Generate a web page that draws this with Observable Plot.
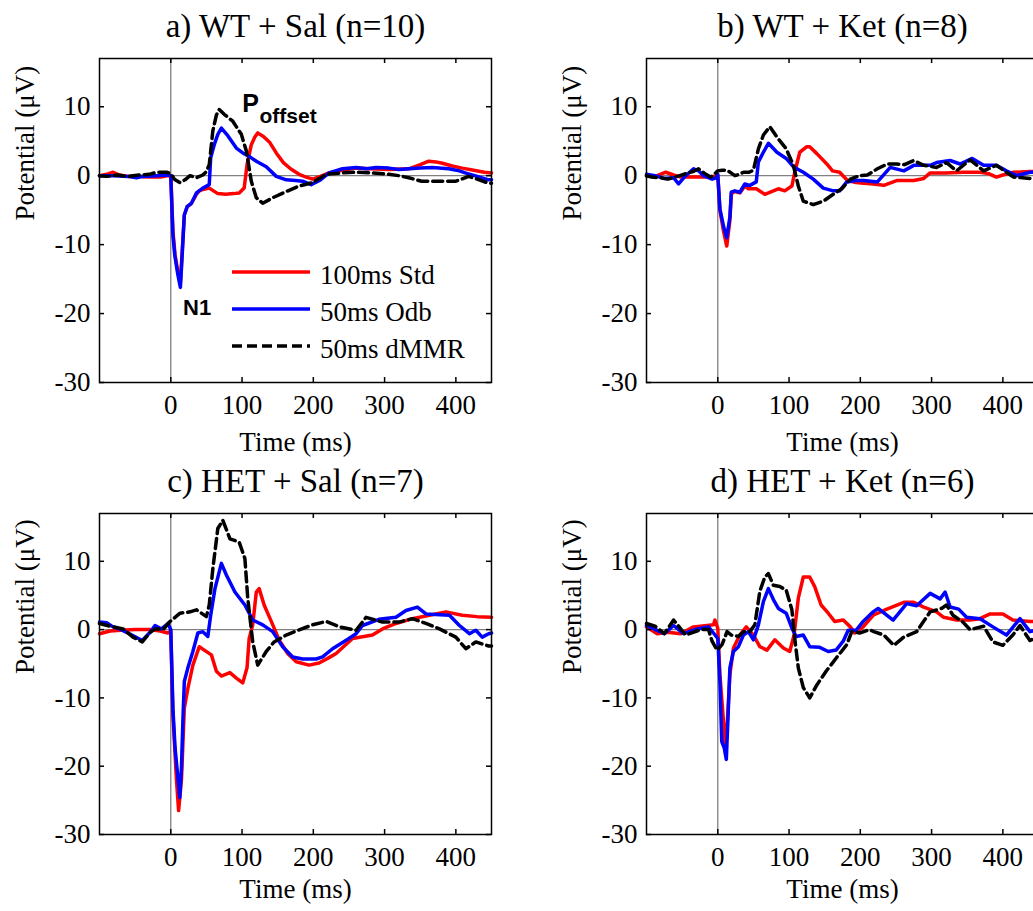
<!DOCTYPE html>
<html><head><meta charset="utf-8">
<script src="https://cdn.jsdelivr.net/npm/d3@7"></script>
<script src="https://cdn.jsdelivr.net/npm/@observablehq/plot@0.6"></script>
<style>
body{margin:0;background:#fff;overflow:hidden;}
#wrap{position:relative;width:1033px;height:911px;overflow:hidden;background:#fff;}
.panel{position:absolute;}
</style></head><body><div id="wrap"></div>
<script>
// ---------- tick labels / categories ----------
const xTicks = [0, 100, 200, 300, 400];
const yTicks = [-30, -20, -10, 0, 10];
const seriesNames = ["100ms Std", "50ms Odb", "50ms dMMR"];
const panelTitles = ["a) WT + Sal (n=10)", "b) WT + Ket (n=8)", "c) HET + Sal (n=7)", "d) HET + Ket (n=6)"];

// ---------- data: [time (ms), potential (µV)] ----------
const aStd = [[-100,0],[-90,0.2],[-81,0.5],[-72,0.1],[-60,-0.1],[-45,-0.1],[-30,-0.2],[-15,-0.2],[-5,0],[0,0],[3,-8],[6,-11.5],[10,-14],[13.5,-15.5],[16,-11],[19,-5.7],[23,-4.5],[29,-4.0],[36,-2.7],[40,-2.2],[45,-2.0],[54,-1.8],[60,-2.2],[66,-2.6],[77,-2.7],[88,-2.6],[96,-2.5],[103,-1.8],[107,1.6],[113,4.5],[118,5.6],[122,6.2],[130,5.7],[139,4.8],[148,3.3],[158,1.9],[168,1.0],[180,0.2],[190,-0.2],[199,-0.5],[210,-0.1],[222,0.4],[240,0.8],[260,1.1],[280,1.0],[306,0.9],[334,1.0],[350,1.6],[362,2.1],[372,2.0],[381,1.8],[395,1.4],[409,1.1],[425,0.8],[440,0.5],[450,0.4]];
const aOdb = [[-100,0],[-80,0],[-60,-0.1],[-48,-0.3],[-40,-0.1],[-20,0],[-5,0.1],[0,0],[3,-8.6],[5.6,-11.5],[10,-14.4],[13.5,-16.2],[16,-11.5],[19,-5.7],[23,-4.5],[29,-4.0],[36,-2.5],[45,-1.8],[54,-1.3],[56,2.6],[61,4.5],[66,6.0],[71,6.9],[80,5.8],[92,4.0],[101,3.3],[110,2.8],[120,2.1],[134,1.3],[148,-0.1],[162,-0.6],[175,-0.7],[185,-0.8],[197,-1.3],[210,-0.6],[222,0.4],[241,1.0],[260,1.2],[275,1.0],[288,1.2],[306,1.1],[320,0.9],[334,1.0],[350,1.1],[367,1.2],[390,1.0],[405,0.7],[413,0.4],[430,-0.1],[446,-0.6],[450,-0.6]];
const aMMR = [[-100,0],[-90,-0.1],[-75,0.1],[-60,-0.1],[-45,0.1],[-30,0.2],[-20,0.5],[-6,0.5],[0,0.3],[5,-0.5],[13,-1.0],[20,-0.6],[27,0],[36,-0.3],[45,0.1],[50,0.6],[54,1.6],[59,6.5],[64,8.8],[68,9.6],[75,8.9],[87,7.9],[99,6.0],[106,3.6],[113,-0.8],[120,-3.2],[129,-4.0],[143,-3.2],[162,-2.3],[180,-1.5],[199,-1.0],[218,0.2],[240,0.4],[260,0.5],[283,0.4],[306,0.2],[320,0],[334,-0.3],[352,-0.8],[370,-0.8],[400,-0.8],[418,-0.1],[430,-0.5],[446,-1.1],[450,-1.1]];

const bStd = [[-100,0],[-85,0],[-73,0.5],[-62,0.1],[-52,-0.2],[-40,-0.2],[-29,-0.2],[-10,-0.2],[0,0],[3,-5],[8,-8],[12.6,-10.2],[17,-6.5],[19,-2.6],[24,-2.3],[31,-2.5],[38,-1.5],[43,-1.9],[54,-1.9],[66,-2.7],[78,-2.2],[85,-1.9],[94,-2.2],[104,-1.5],[108,0.5],[115,3.4],[125,4.2],[129,4.2],[139,3.2],[153,1.7],[161,0.7],[171,0.5],[182,-0.7],[194,-1.0],[205,-1.1],[218,-1.2],[233,-1.4],[251,-0.7],[275,-0.7],[289,-0.4],[298,0.4],[320,0.4],[344,0.5],[368,0.5],[380,0.3],[391,-0.2],[400,0.1],[415,0.5],[438,0.6],[450,0.6]];
const bOdb = [[-100,0.2],[-88,0],[-75,-0.4],[-62,-0.3],[-55,-1.2],[-45,0],[-34,1.0],[-27,0.7],[-20,0],[-8,-0.5],[-2,-0.3],[0,0.2],[3,-4.8],[8,-7.3],[12.6,-9.0],[17,-6.0],[19,-2.4],[24,-2.2],[31,-2.4],[38,-1.2],[45,-1.4],[54,-0.9],[57,2.0],[64,3.4],[71,4.7],[83,3.4],[96,2.5],[106,1.3],[120,0.5],[134,-0.5],[148,-1.8],[162,-2.2],[171,-2.2],[181,-0.9],[194,-0.7],[205,-0.7],[224,-0.9],[242,1.2],[261,0.7],[275,1.5],[298,1.5],[307,1.9],[326,2.2],[340,1.7],[357,2.5],[373,1.5],[391,1.5],[405,0.7],[419,0.0],[438,0.5],[450,0.5]];
const bMMR = [[-100,0],[-93,-0.2],[-80,-0.3],[-70,-0.5],[-60,-0.2],[-48,0.2],[-35,0.6],[-27,1.0],[-18,0.3],[-10,-0.2],[-5,0.2],[0,0.7],[6,0.8],[13,0.8],[20,0.3],[24,0],[30,0.2],[36,0.5],[44,0.5],[50,0.8],[57,3.9],[64,5.9],[73,7.1],[83,5.6],[96,3.9],[106,1.5],[113,-1.5],[120,-3.7],[134,-4.2],[148,-3.7],[162,-2.7],[174,-1.9],[186,-0.5],[199,0],[210,0.1],[224,1.0],[238,1.7],[251,1.7],[262,1.6],[275,2.2],[289,1.5],[307,1.2],[321,1.9],[335,0.7],[354,2.3],[373,0.7],[391,1.5],[405,0.5],[415,-0.2],[438,-0.4],[450,-0.4]];

const cStd = [[-100,-0.6],[-85,-0.2],[-70,-0.1],[-50,0],[-30,0],[-15,-0.2],[-4,-0.5],[0,-0.2],[3,-12.5],[8,-22],[11,-26.5],[15,-22],[19,-11.5],[24,-8.6],[31,-5.2],[40,-2.5],[47,-3.0],[57,-3.7],[64,-6.1],[71,-6.8],[83,-6.3],[92,-7.1],[101,-7.8],[107,-5.6],[110,-1.3],[115,0.7],[120,5.5],[124,6.0],[131,3.6],[141,1.2],[152,-1.5],[164,-3.5],[176,-4.7],[194,-5.2],[208,-4.9],[222,-4.1],[232,-3.5],[255,-1.3],[283,-0.8],[297,0.1],[316,0.9],[339,1.6],[363,2.1],[386,2.6],[409,2.1],[430,1.9],[450,1.8]];
const cOdb = [[-100,1.1],[-90,1.0],[-81,0.4],[-70,0],[-58,-0.6],[-40,-1.6],[-30,-0.5],[-22,0.6],[-13,0.1],[-4,0.9],[0,0],[3,-11.5],[6,-17.3],[10,-21.7],[12.6,-24.6],[15,-20.2],[17,-13.4],[19,-7.6],[24,-5.6],[31,-3.2],[38,-0.5],[45,-0.3],[52,-1.0],[56,2.1],[62,6.0],[71,9.7],[78,8.0],[90,5.5],[104,3.6],[115,1.4],[129,0.7],[143,-0.3],[157,-2.5],[171,-4.0],[185,-4.3],[204,-4.3],[213,-4.0],[227,-2.8],[250,-1.3],[260,-0.6],[269,0.6],[292,1.5],[316,1.8],[330,2.8],[346,3.3],[358,2.3],[391,2.1],[405,0.6],[419,-0.6],[428,-0.1],[437,-1.1],[446,-0.6],[450,-0.5]];
const cMMR = [[-100,0.9],[-85,0.5],[-67,0.1],[-53,-1.1],[-40,-1.8],[-30,-0.5],[-22,0.1],[-10,0.1],[-1,1.2],[13,2.4],[27,2.6],[36,2.9],[50,1.9],[54,3.6],[59,8.9],[66,14.8],[73,16.0],[83,13.3],[96,12.8],[104,10.4],[108,4.6],[115,-1.8],[122,-5.2],[134,-3.2],[145,-1.8],[162,-0.8],[181,0.0],[199,0.7],[218,1.2],[237,0.4],[260,-0.1],[274,1.8],[297,1.1],[320,1.1],[339,1.6],[358,0.9],[377,0.1],[400,-1.1],[414,-2.8],[428,-1.8],[446,-2.4],[450,-2.4]];

const dStd = [[-100,0.4],[-85,-0.6],[-70,-0.4],[-52,-0.6],[-34,0.4],[-15,0.6],[-6,0.7],[-4,1.4],[0,0.2],[3,-6.6],[8,-13.4],[10,-16.8],[13.5,-13.4],[17,-6.6],[22,-2.7],[31,-0.8],[40,0.4],[50,-0.8],[59,-2.5],[69,-3.0],[80,-1.5],[92,-2.7],[101,-3.2],[107,-0.8],[113,4.6],[120,7.7],[129,7.7],[136,6.3],[145,3.6],[155,2.4],[164,1.2],[176,1.4],[186,0.4],[192,-0.5],[204,0.4],[218,2.1],[233,2.8],[261,4.0],[275,4.0],[289,3.3],[307,2.6],[317,1.8],[335,1.4],[354,1.4],[368,1.6],[382,2.3],[400,2.3],[414,1.4],[438,1.2],[450,1.2]];
const dOdb = [[-100,0.6],[-75,-0.6],[-62,0.6],[-48,-0.6],[-29,0.1],[-13,0.4],[-6,-0.5],[0,-1.3],[3,-7.6],[5.6,-16.4],[9,-17.3],[12,-19],[14.5,-12.5],[17,-5.6],[22,-3.2],[29,-2.5],[36,-0.8],[43,-0.3],[50,-1.5],[57,0.7],[64,4.1],[71,6.0],[78,4.4],[85,3.1],[96,2.4],[104,0.2],[110,-1.0],[120,-0.8],[129,-2.5],[143,-2.6],[155,-3.2],[166,-3.0],[176,-1.7],[183,-0.1],[194,-0.1],[204,1.2],[218,2.6],[225,3.1],[246,1.4],[265,3.8],[279,3.5],[298,5.3],[312,4.5],[319,5.5],[326,3.3],[338,3.0],[349,1.8],[368,1.6],[386,0.4],[405,-0.8],[424,1.6],[438,-0.3],[450,0]];
const dMMR = [[-100,0.9],[-88,0.5],[-75,-0.6],[-62,1.4],[-45,-0.8],[-24,0],[-13,0],[-8,-1.7],[-1,-3.0],[6,-2.2],[13,-0.3],[19,-0.8],[29,-1.0],[36,-0.3],[45,-0.3],[52,0.7],[59,5.6],[66,7.7],[71,8.2],[78,6.5],[87,6.3],[96,5.8],[104,2.9],[108,-1.3],[113,-5.6],[120,-8.5],[129,-10.0],[139,-8.1],[152,-6.1],[166,-4.2],[181,-2.2],[188,-0.3],[199,-0.5],[213,0],[219,-0.3],[233,-0.8],[247,-2.3],[261,-1.1],[279,-0.3],[298,2.6],[314,3.1],[321,3.6],[330,2.1],[344,1.1],[354,0],[373,0.5],[386,-1.8],[400,-2.3],[414,-0.8],[424,0.6],[438,-1.6],[450,-1.0]];

// annotations in panel a (data coords)
const annoN1 = [{t: 37, v: -19.2, label: "N1"}];
const annoP = [{t: 100.3, v: 10.4, label: "P"}];
const annoSub = [{t: 124.5, v: 8.6, label: "offset"}];

const serif = "'Liberation Serif','Times New Roman',serif";
const sans = "'Liberation Sans',Arial,sans-serif";
const RED = "#ff0000", BLUE = "#0000ff", BLACK = "#000000";

const panels = [
  {title: panelTitles[0], std: aStd, odb: aOdb, mmr: aMMR, left: 0,   top: 0,   mb: 73, xl: 60, legend: true},
  {title: panelTitles[1], std: bStd, odb: bOdb, mmr: bMMR, left: 547, top: 0,   mb: 73, xl: 60},
  {title: panelTitles[2], std: cStd, odb: cOdb, mmr: cMMR, left: 0,   top: 455, mb: 76, xl: 55},
  {title: panelTitles[3], std: dStd, odb: dOdb, mmr: dMMR, left: 547, top: 455, mb: 76, xl: 55}
];

const wrap = document.getElementById("wrap");

for (const p of panels) {
  const W = 540, H = 455, ML = 99, MR = 49, MT = 58, MB = p.mb;
  const iw = W - ML - MR, ih = H - MT - MB;
  const acc = {x: d => d[0], y: d => d[1]};
  const marks = [
    Plot.ruleY([0], {stroke: "#808080", strokeWidth: 1.3}),
    Plot.ruleX([0], {stroke: "#808080", strokeWidth: 1.3}),
    Plot.line(p.std, {...acc, stroke: RED, strokeWidth: 3.5, strokeLinejoin: "round"}),
    Plot.line(p.odb, {...acc, stroke: BLUE, strokeWidth: 3.5, strokeLinejoin: "round"}),
    Plot.line(p.mmr, {...acc, stroke: BLACK, strokeWidth: 3.5, strokeDasharray: "10,5", strokeLinejoin: "round"}),
    // inward ticks on all four sides
    Plot.tickX(xTicks, {x: d => d, insetTop: ih - 5, stroke: "black", strokeWidth: 1.5}),
    Plot.tickX(xTicks, {x: d => d, insetBottom: ih - 5, stroke: "black", strokeWidth: 1.5}),
    Plot.tickY(yTicks, {y: d => d, insetRight: iw - 5, stroke: "black", strokeWidth: 1.5}),
    Plot.tickY(yTicks, {y: d => d, insetLeft: iw - 5, stroke: "black", strokeWidth: 1.5}),
    Plot.frame({stroke: "black", strokeWidth: 1.5}),
    Plot.axisX({ticks: xTicks, tickSize: 0, tickPadding: 12, label: null, fontSize: 27, fill: "black"}),
    Plot.axisY({ticks: yTicks, tickSize: 0, tickPadding: 9, label: null, fontSize: 27, fill: "black", tickFormat: d => String(d).replace("−", "-")}),
    Plot.text([p.title], {frameAnchor: "top", lineAnchor: "middle", dy: -31.6, fontSize: 33, fill: "black"}),
    Plot.text(["Time (ms)"], {frameAnchor: "bottom", lineAnchor: "middle", dy: p.xl, fontSize: 27, fill: "black"}),
    Plot.text(["Potential (\u03bcV)"], {frameAnchor: "left", lineAnchor: "middle", dx: -74, rotate: -90, fontSize: 27, fill: "black"})
  ];
  if (p.legend) {
    marks.push(
      Plot.text(annoN1, {x: "t", y: "v", text: "label", lineAnchor: "middle", fontFamily: sans, fontWeight: "bold", fontSize: 22, fill: "black"}),
      Plot.text(annoP, {x: "t", y: "v", text: "label", textAnchor: "start", lineAnchor: "middle", fontFamily: sans, fontWeight: "bold", fontSize: 25, fill: "black"}),
      Plot.text(annoSub, {x: "t", y: "v", text: "label", textAnchor: "start", lineAnchor: "middle", fontFamily: sans, fontWeight: "bold", fontSize: 21, fill: "black"})
    );
  }
  const svg = Plot.plot({
    width: W, height: H,
    marginLeft: ML, marginRight: MR, marginTop: MT, marginBottom: MB,
    x: {domain: [-100, 450], axis: null},
    y: {domain: [-30, 17], axis: null},
    style: {fontFamily: serif, fontSize: "27px", color: "black", background: "transparent", overflow: "visible"},
    marks
  });
  if (p.legend) {
    const g = d3.select(svg).append("g").attr("text-anchor", "start");
    const items = [
      {name: seriesNames[0], color: RED, dash: null},
      {name: seriesNames[1], color: BLUE, dash: null},
      {name: seriesNames[2], color: BLACK, dash: "10,5"}
    ];
    items.forEach((it, i) => {
      const y = 272 + i * 37;
      g.append("line").attr("x1", 232).attr("x2", 310).attr("y1", y).attr("y2", y)
        .attr("stroke", it.color).attr("stroke-width", 3.5)
        .attr("stroke-dasharray", it.dash);
      g.append("text").attr("x", 320).attr("y", y + 3).attr("dy", "0.35em")
        .attr("text-anchor", "start")
        .attr("font-family", serif).attr("font-size", 27).attr("fill", "black")
        .text(it.name);
    });
  }
  svg.classList.add("panel");
  svg.style.left = p.left + "px";
  svg.style.top = p.top + "px";
  svg.style.position = "absolute";
  wrap.appendChild(svg);
}
</script>
</body></html>
